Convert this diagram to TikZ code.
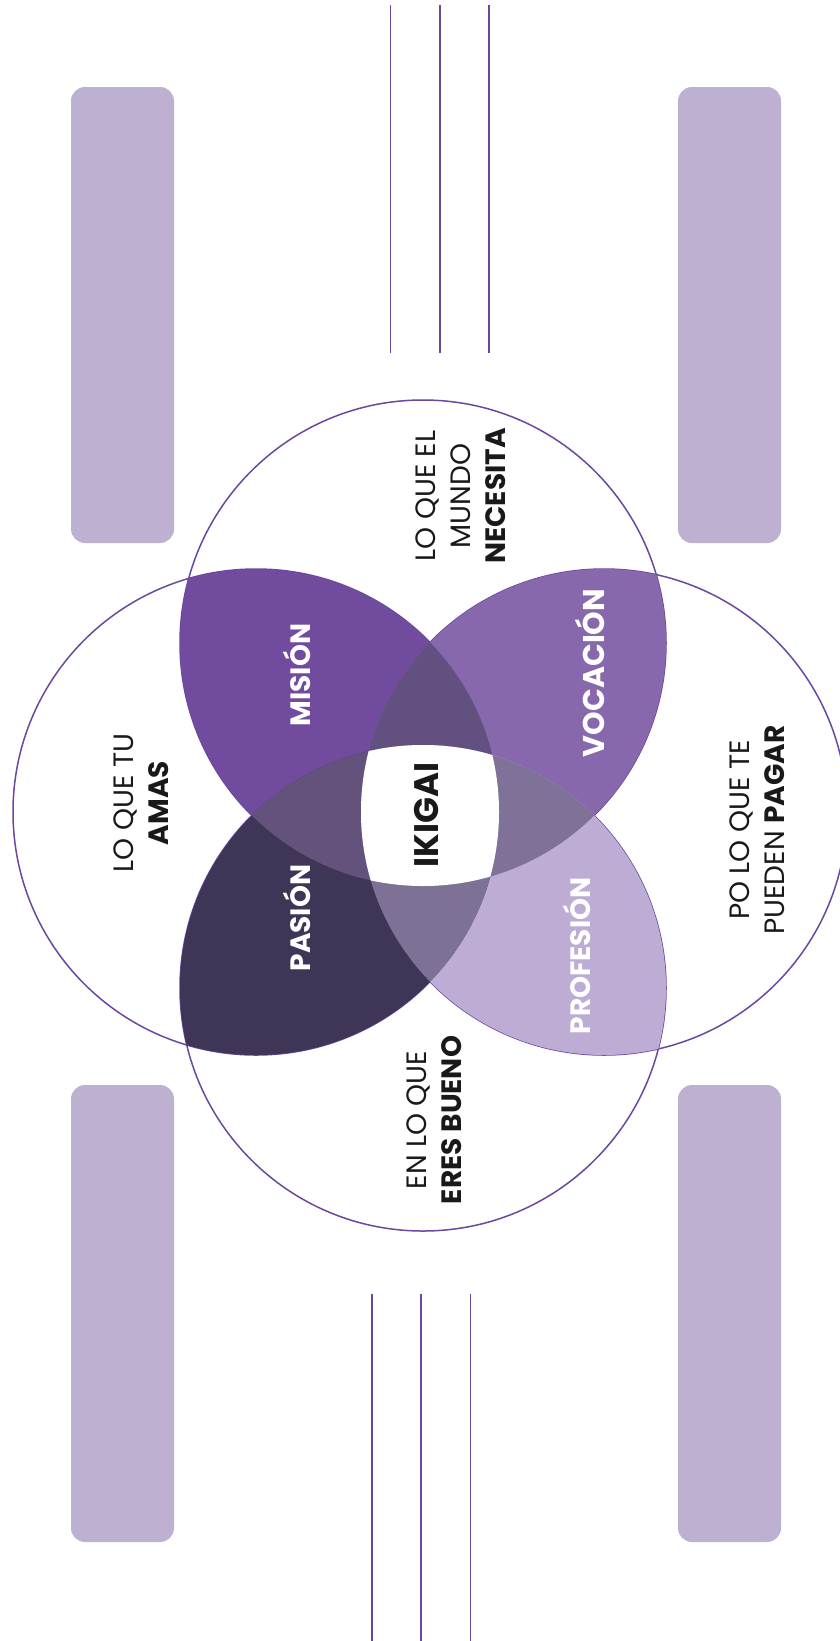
\documentclass[tikz,border=0pt]{standalone}
\usepackage{fontspec}
\setmainfont{Poppins}
\usetikzlibrary{positioning}
\definecolor{ringc}{HTML}{6A48A0}
\definecolor{barc}{HTML}{BDB0D1}
\definecolor{misionc}{HTML}{714B9D}
\definecolor{vocacionc}{HTML}{8868AD}
\definecolor{profesionc}{HTML}{BDADD4}
\definecolor{pasionc}{HTML}{3E3557}
\definecolor{topc}{HTML}{625080}
\definecolor{leftc}{HTML}{63537C}
\definecolor{rightc}{HTML}{7F7198}
\definecolor{botc}{HTML}{7E7196}
\begin{document}
\begin{tikzpicture}[x=1pt, y=-1pt,
  ring/.style={draw=ringc, line width=1.5pt},
  rule/.style={draw=ringc, line width=1.5pt},
  bar/.style={fill=barc, rounded corners=14pt},
  word/.style={rotate=90, align=center, inner sep=0pt, text=black!90, font=\fontsize{28}{35}\selectfont},
  petal/.style={rotate=90, inner sep=0pt, text=white, font=\bfseries\fontsize{28}{34}\selectfont}]
  \useasboundingbox (0,0) rectangle (839,1641);
  \fill[white] (0,0) rectangle (839,1641);
  \def\rad{243}
  \coordinate (L) at (256,812);
  \coordinate (R) at (604,812);
  \coordinate (T) at (423,643);
  \coordinate (B) at (423,988);
  % side bars and rules
  \foreach \x in {71,678}{
    \fill[bar] (\x,87) rectangle (\x+103,543);
    \fill[bar] (\x,1085) rectangle (\x+103,1542);
  }
  \foreach \x in {390.6,439.8,489.1}{ \draw[rule] (\x,5) -- (\x,353); }
  \foreach \x in {372,421.2,470.4}{ \draw[rule] (\x,1294) -- (\x,1641); }
  % circles, then the overlaps on top
  \foreach \c in {L,R,T,B}{ \draw[ring] (\c) circle[radius=\rad]; }
  \foreach \a/\b/\col in {L/T/misionc, T/R/vocacionc, R/B/profesionc, B/L/pasionc}{
    \begin{scope}
      \clip (\a) circle[radius=\rad];
      \fill[\col] (\b) circle[radius=\rad];
    \end{scope}
  }
  \foreach \a/\b/\c/\col in {L/T/R/topc, T/L/B/leftc, T/R/B/rightc, L/B/R/botc}{
    \begin{scope}
      \clip (\a) circle[radius=\rad];
      \clip (\b) circle[radius=\rad];
      \fill[\col] (\c) circle[radius=\rad];
    \end{scope}
  }
  \begin{scope}
    \clip (L) circle[radius=\rad];
    \clip (R) circle[radius=\rad];
    \clip (T) circle[radius=\rad];
    \fill[white] (B) circle[radius=\rad];
  \end{scope}
  % texts
  \node[word] (amas) at (141,803) {LO QUE TU\\\textbf{AMAS}};
  \node[word] (necesita) at (461,496) {LO QUE EL\\MUNDO\\\textbf{NECESITA}};
  \node[word] (pagar) at (757,830) {PO LO QUE TE\\PUEDEN \textbf{PAGAR}};
  \node[word] (bueno) at (434,1120) {EN LO QUE\\\textbf{ERES BUENO}};
  \node[petal] (mision) at (297,675) {MISIÓN};
  \node[petal, font=\bfseries\fontsize{30}{34}\selectfont] (vocacion) at (590,673) {VOCACIÓN};
  \node[petal] (pasion) at (297,918) {PASIÓN};
  \node[petal] (profesion) at (577,956) {PROFESIÓN};
  \node[petal, text=black!90, font=\bfseries\fontsize{34}{36}\selectfont] (ikigai) at (427,815) {IKIGAI};
\end{tikzpicture}
\end{document}
